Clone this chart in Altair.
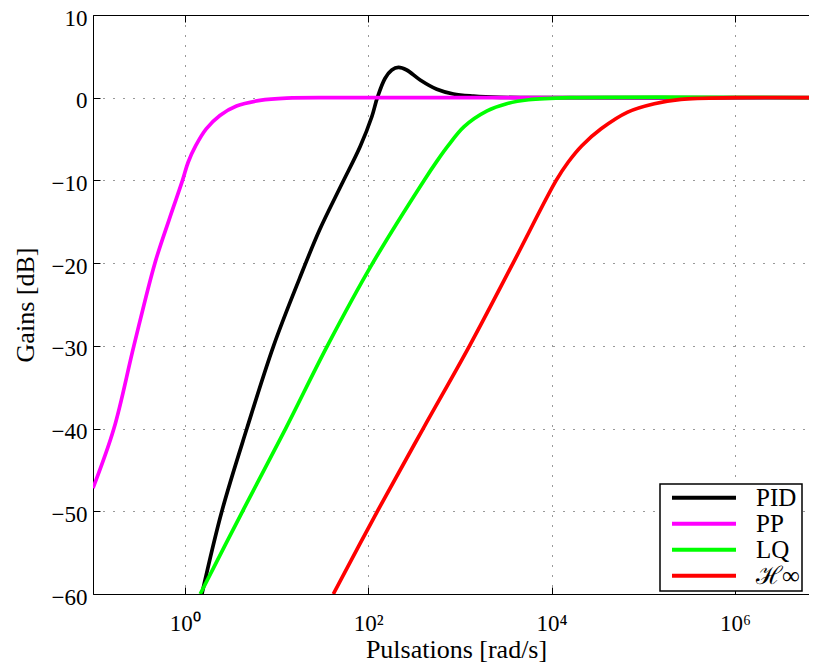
import altair as alt
import pandas as pd

# ---- data ----
series_names = ["PID", "PP", "LQ", "ℋ∞"]
series_colors = ["#000000", "#ff00ff", "#00ff00", "#ff0000"]

pid_w = [1.54, 2.54, 4.76, 9.31, 17.8, 29.5, 51.3, 81.8, 109.6, 125.9, 153.1, 181.1,
         213.8, 263.0, 369.0, 561.0, 851.0, 1406.0, 2754.0, 10000.0, 1e7]
pid_db = [-60.0, -50.0, -40.0, -30.0, -21.9, -16.0, -10.5, -5.9, -2.3, 0.0, 2.35, 3.35,
          3.67, 3.35, 2.14, 1.02, 0.45, 0.2, 0.05, 0.0, 0.0]

pp_w = [0.1, 0.169, 0.279, 0.473, 0.678, 0.946, 1.09, 1.318, 1.716, 2.42, 3.67, 6.6, 12.9, 100.0, 1e7]
pp_db = [-47.2, -40.0, -30.0, -20.0, -14.7, -10.0, -7.8, -5.8, -3.76, -2.14, -1.0, -0.32, -0.04, 0.0, 0.0]

lq_w = [1.476, 4.27, 12.6, 35.9, 112.0, 407.0, 560.0, 745.0, 1112.0, 1982.0, 3236.0, 5623.0, 15849.0, 1e7]
lq_db = [-60.0, -50.0, -40.0, -30.0, -20.0, -10.0, -7.7, -5.8, -3.5, -1.6, -0.73, -0.25, 0.0, 0.0]

hinf_w = [41.7, 126.0, 398.0, 1274.0, 3802.0, 11220.0, 15140.0, 21380.0, 34670.0, 67600.0,
          131800.0, 257000.0, 1e6, 1e7]
hinf_db = [-60.0, -50.0, -40.0, -30.0, -20.0, -10.0, -7.8, -5.8, -3.76, -1.74, -0.73, -0.2, 0.0, 0.0]

x_tick_values = [1, 100, 10000, 1000000]
x_tick_labels = ["10⁰", "10²", "10⁴", "10⁶"]
y_tick_values = [-60, -50, -40, -30, -20, -10, 0, 10]

x_title = "Pulsations [rad/s]"
y_title = "Gains [dB]"

# ---- build table ----
rows = []
for name, ws, dbs in zip(series_names, [pid_w, pp_w, lq_w, hinf_w], [pid_db, pp_db, lq_db, hinf_db]):
    for w, d in zip(ws, dbs):
        rows.append({"serie": name, "w": w, "db": d})
df = pd.DataFrame(rows)

FONT = "Liberation Serif"
x_scale = alt.Scale(type="log", domain=[0.1, 6.405e6])
y_scale = alt.Scale(domain=[-60, 10])
color_scale = alt.Scale(domain=series_names, range=series_colors)

label_expr = "".join(f"datum.value == {v} ? '{lab}' : " for v, lab in zip(x_tick_values, x_tick_labels)) + "''"

main = alt.Chart(df).mark_line(clip=True, strokeWidth=3.7, interpolate="catmull-rom").encode(
    x=alt.X("w:Q", scale=x_scale,
            axis=alt.Axis(orient="bottom", values=x_tick_values, labelExpr=label_expr,
                          grid=True, ticks=False, tickSize=0, domain=True,
                          labelPadding=36, labelBaseline="alphabetic", labelAlign="center",
                          labelOverlap=False, labelFlush=False,
                          title=x_title, titleX=363, titleY=63, titleAlign="center",
                          titleBaseline="alphabetic")),
    y=alt.Y("db:Q", scale=y_scale,
            axis=alt.Axis(orient="left", values=y_tick_values, grid=True, ticks=False,
                          tickSize=0, domain=True, labelPadding=6, labelOverlap=False,
                          labelBaseline="alphabetic", labelOffset=10, labelFlush=False,
                          title=y_title, titleX=-68, titleY=289.5, titleAngle=-90,
                          titleAlign="center", titleBaseline="middle")),
    color=alt.Color("serie:N", scale=color_scale,
                    legend=alt.Legend(title=None, orient="none", legendX=567, legendY=469,
                                      symbolType="stroke", symbolSize=4096,
                                      symbolStrokeWidth=4, clipHeight=23.5,
                                      labelOffset=18, symbolOffset=8, padding=2,
                                      strokeColor="black", fillColor="white",
                                      labelFont=FONT, labelFontSize=25, labelColor="black",
                                      rowPadding=0,
                                      labelExpr="datum.label + '        '")),
)


def ghost(x_axis, y_axis):
    return alt.Chart(df).mark_line(clip=True, strokeOpacity=0).encode(
        x=alt.X("w:Q", scale=x_scale, axis=x_axis),
        y=alt.Y("db:Q", scale=y_scale, axis=y_axis),
    )


top_domain = ghost(alt.Axis(orient="top", values=x_tick_values, labels=False, ticks=False,
                            grid=False, domain=True, title=None), None)
top_ticks = ghost(alt.Axis(orient="top", values=x_tick_values, offset=-7, labels=False,
                           ticks=True, tickSize=7, grid=False, domain=False, title=None), None)
bottom_ticks = ghost(alt.Axis(orient="bottom", values=x_tick_values, offset=-7, labels=False,
                              ticks=True, tickSize=7, grid=False, domain=False, title=None), None)
left_ticks = ghost(None, alt.Axis(orient="left", values=y_tick_values, offset=-7, labels=False,
                                  ticks=True, tickSize=7, grid=False, domain=False, title=None))

chart = alt.layer(main, top_domain, top_ticks, bottom_ticks, left_ticks).resolve_axis(
    x="independent", y="independent"
).properties(
    width=716, height=579,
    autosize=alt.AutoSizeParams(type="none"),
    padding={"left": 85, "top": 7, "right": 0, "bottom": 68},
).configure_view(strokeWidth=0).configure_axis(
    labelFont=FONT, titleFont=FONT, labelFontSize=23, titleFontSize=26,
    labelColor="black", titleColor="black", titleFontWeight="normal",
    gridColor="#333333", gridDash=[1, 9], gridWidth=1, gridOpacity=1,
    domainColor="black", domainWidth=1, tickColor="black", tickWidth=1,
).configure_legend(strokeWidth=1.5)

chart.save("out.html", embed_options={"renderer": "svg", "actions": False})
